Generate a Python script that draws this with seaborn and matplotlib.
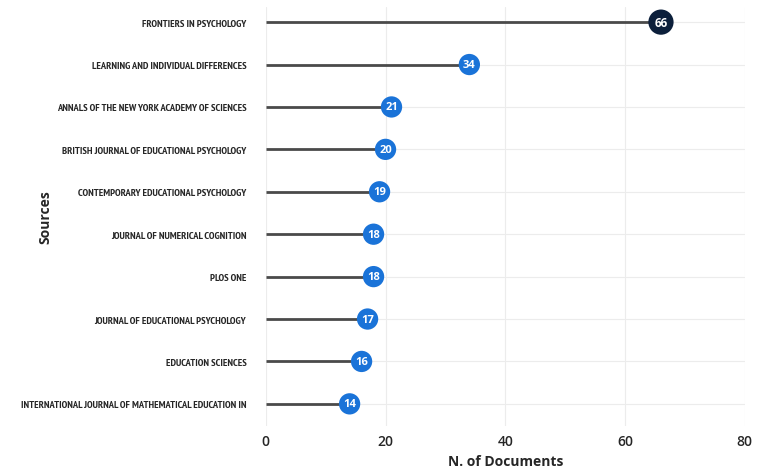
import seaborn as sns
import matplotlib.pyplot as plt
import pandas as pd

# Top sources by number of documents
sources = [
    'FRONTIERS IN PSYCHOLOGY',
    'LEARNING AND INDIVIDUAL DIFFERENCES',
    'ANNALS OF THE NEW YORK ACADEMY OF SCIENCES',
    'BRITISH JOURNAL OF EDUCATIONAL PSYCHOLOGY',
    'CONTEMPORARY EDUCATIONAL PSYCHOLOGY',
    'JOURNAL OF NUMERICAL COGNITION',
    'PLOS ONE',
    'JOURNAL OF EDUCATIONAL PSYCHOLOGY',
    'EDUCATION SCIENCES',
    'INTERNATIONAL JOURNAL OF MATHEMATICAL EDUCATION IN',
]
documents = [66, 34, 21, 20, 19, 18, 18, 17, 16, 14]
x_ticks = [0, 20, 40, 60, 80]

df = pd.DataFrame({'Source': sources, 'Documents': documents})
df['pos'] = range(len(df))
df['top'] = df['Documents'] == df['Documents'].max()

sns.set_style('white')
plt.rcParams['font.family'] = ['Open Sans', 'DejaVu Sans']

fig, ax = plt.subplots(figsize=(7.84, 4.77), dpi=100)
fig.subplots_adjust(left=0.339, right=0.950, top=0.983, bottom=0.105)

# stems
ax.hlines(df['pos'], 0, df['Documents'], color='#4a4a4a', linewidth=2, zorder=2)

# dots
sns.scatterplot(data=df[~df['top']], x='Documents', y='pos', color='#1a73d8',
                s=235, edgecolor='none', ax=ax, zorder=3, legend=False)
sns.scatterplot(data=df[df['top']], x='Documents', y='pos', color='#0c1f3b',
                s=330, edgecolor='none', ax=ax, zorder=3, legend=False)

for _, r in df.iterrows():
    ax.text(r['Documents'], r['pos'], str(r['Documents']), color='white',
            fontsize=8 if not r['top'] else 8.5, fontweight='bold',
            ha='center', va='center', zorder=4)

ax.set_xlim(0, 80)
ax.set_ylim(9.52, -0.354)
ax.set_xticks(x_ticks)
ax.set_yticks(df['pos'])
ax.set_yticklabels(df['Source'], fontsize=7.5, fontweight='bold',
                   family=['PT Sans Narrow', 'Open Sans Condensed', 'DejaVu Sans'])
ax.tick_params(axis='x', length=0, pad=6, labelsize=10)
ax.tick_params(axis='y', length=0, pad=14)
for t in ax.get_xticklabels():
    t.set_fontweight('semibold')

ax.grid(True, color='#ececec', linewidth=0.8)
ax.set_axisbelow(True)
for s in ax.spines.values():
    s.set_visible(False)

ax.set_xlabel('N. of Documents', fontsize=10, fontweight='bold', labelpad=4)
ax.set_ylabel('Sources', fontsize=10, fontweight='bold')
ax.yaxis.set_label_coords(-0.445, 0.5)

plt.savefig('out.png', dpi=100)
plt.close()
